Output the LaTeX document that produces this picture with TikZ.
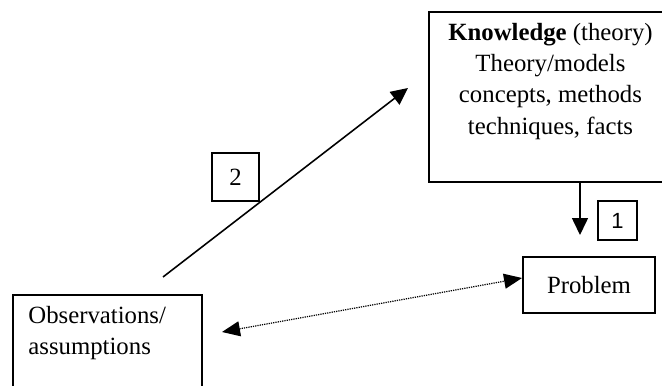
\documentclass[tikz,border=0pt]{standalone}
\usepackage{fontspec}
\setmainfont{Liberation Serif}
\newfontfamily\numfont{Liberation Sans}
\usetikzlibrary{arrows.meta,positioning}

\begin{document}
\begin{tikzpicture}[every node/.style={font=\fontsize{14.1}{17.9}\selectfont},
    box/.style={draw,line width=1.1pt,inner sep=0pt},
    numbox/.style={draw,line width=0.6pt,inner sep=0pt},
    arr/.style={line width=0.9pt,-{Triangle[length=0.34cm,width=0.32cm]}},
    dotarr/.style={line width=0.7pt,dash pattern=on 0.7pt off 0.6pt,
      {Triangle[length=0.36cm,width=0.3cm]}-{Triangle[length=0.36cm,width=0.3cm]}}]
    \useasboundingbox (0,0) rectangle (13.24,7.7);
    \clip (0,0) rectangle (13.24,7.7);

    % Boxes
    \node[box,minimum width=4.86cm,minimum height=3.4cm] (know) at (11.01,5.76) {};
    \node[inner sep=0pt,align=center,below=0.23 of know.north] (knowtxt)
      {\textbf{Knowledge} (theory)\\Theory/models\\concepts, methods\\techniques, facts};
    \node[box,minimum width=2.64cm,minimum height=1.12cm] (prob) at (11.78,2.0) {Problem};
    \node[box,minimum width=3.78cm,minimum height=2.0cm] (obs) at (2.15,0.8) {};
    \node[inner sep=0pt,align=left,anchor=north west] (obstxt)
      at ([shift={(0.32,-0.237)}]obs.north west) {Observations/\\assumptions};

    % Numbered steps
    \node[numbox,minimum width=0.78cm,minimum height=0.78cm,
      font=\numfont\fontsize{12.5}{14}\selectfont] (one) at (12.35,3.29) {1};
    \node[numbox,minimum width=0.94cm,minimum height=0.96cm] (two) at (4.71,4.16) {2};

    % Arrows
    \coordinate (oneend) at (11.6,3.0);
    \draw[arr] (know.south -| oneend) -- (oneend);
    \coordinate (twostart) at (3.26,2.16);
    \coordinate (twoend) at (8.16,5.94);
    \draw[arr] (twostart) -- (twoend);
    \coordinate (obsend) at (4.44,1.06);
    \draw[dotarr] (obsend) -- ([yshift=0.14cm]prob.west);
\end{tikzpicture}
\end{document}
